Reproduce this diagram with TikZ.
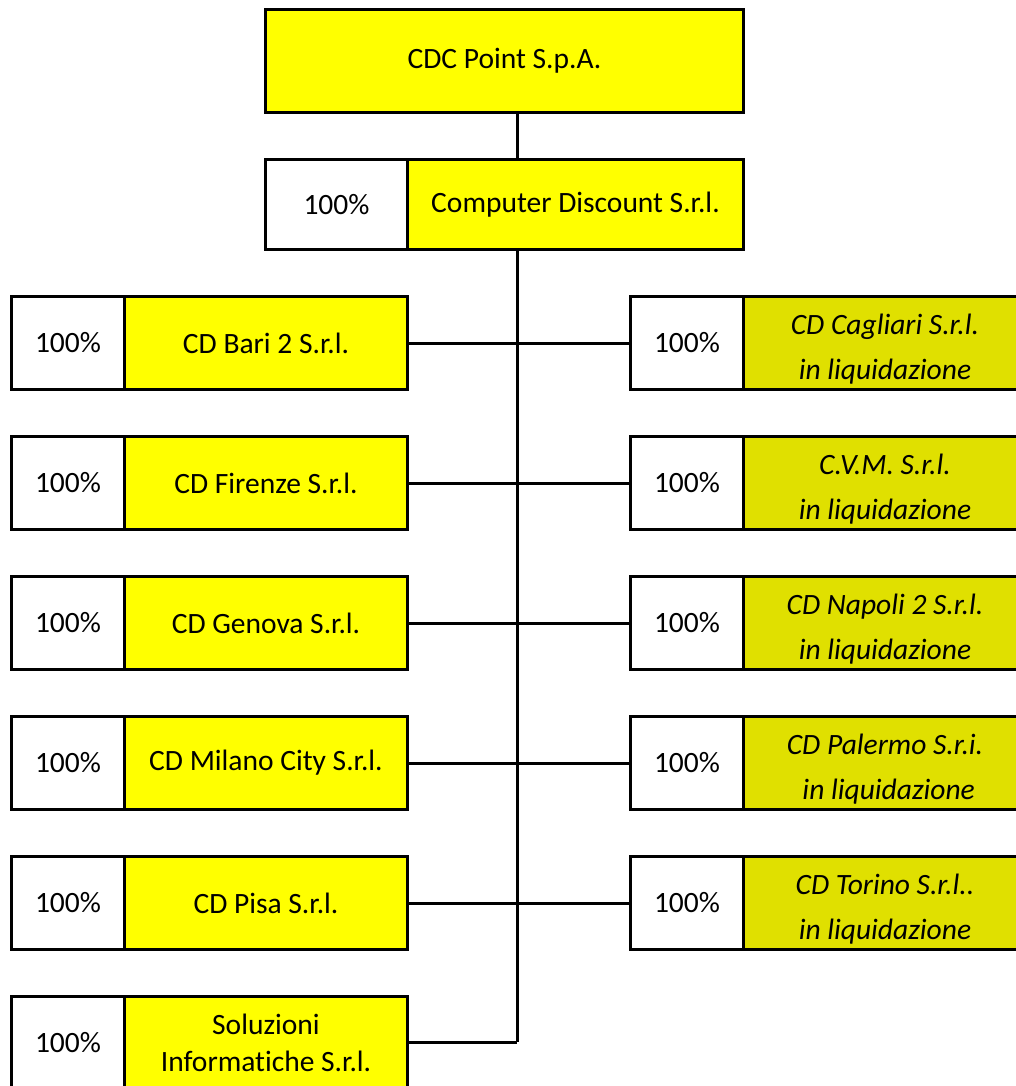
\documentclass[tikz,border=0pt]{standalone}
\usepackage{fontspec}
\setmainfont{Carlito}[Ligatures=NoCommon]
\usepackage{tikz}

\definecolor{firmyellow}{RGB}{255,255,0}
\definecolor{liqyellow}{RGB}{224,224,0}

\begin{document}
\begin{tikzpicture}[x=1pt,y=-1pt]
\tikzset{box/.style = {shape=rectangle,draw,line width=3pt,inner sep=0pt,anchor=north west,
  align=center,font=\fontsize{29.5}{45}\selectfont}}
\tikzset{pct/.style = {box,fill=white,minimum width=113pt,minimum height=93pt}}
\tikzset{firm/.style = {box,fill=firmyellow,minimum width=283pt,minimum height=93pt}}
\tikzset{liq/.style = {firm,fill=liqyellow,font=\fontsize{29.5}{45}\selectfont\itshape}}
\tikzset{edge/.style = {-,line width=3pt}}
\newcommand{\liqtop}{\rule{0pt}{33pt}}
\useasboundingbox (0,0) rectangle (1015,1086);

\node[box,fill=firmyellow,minimum width=478pt,minimum height=103pt] (cdc) at (264,8) {CDC Point S.p.A.};
\node[box,fill=white,minimum width=142pt,minimum height=90pt] (cdp) at (264,158) {100\%};
\node[box,fill=firmyellow,minimum width=336pt,minimum height=90pt] (cd) at (406,158) {Computer Discount S.r.l.};

%left column
\node[pct] (pbari) at (10,295) {100\%};
\node[firm] (bari) at (123,295) {CD Bari 2 S.r.l.};
\node[pct] (pfir) at (10,435) {100\%};
\node[firm] (fir) at (123,435) {CD Firenze S.r.l.};
\node[pct] (pgen) at (10,575) {100\%};
\node[firm] (gen) at (123,575) {CD Genova S.r.l.};
\node[pct] (pmil) at (10,715) {100\%};
\node[firm] (mil) at (123,715) {CD Milano City S.r.l.};
\node[pct] (ppisa) at (10,855) {100\%};
\node[firm] (pisa) at (123,855) {CD Pisa S.r.l.};
\node[pct] (psol) at (10,995) {100\%};
\node[firm,font=\fontsize{29.5}{37}\selectfont] (sol) at (123,995) {Soluzioni\\Informatiche S.r.l.};

%right column
\node[pct] (pcag) at (629,295) {100\%};
\node[liq] (cag) at (742,295) {\liqtop CD Cagliari S.r.l.\\in liquidazione};
\node[pct] (pcvm) at (629,435) {100\%};
\node[liq] (cvm) at (742,435) {\liqtop C.V.M. S.r.l.\\in liquidazione};
\node[pct] (pnap) at (629,575) {100\%};
\node[liq] (nap) at (742,575) {\liqtop CD Napoli 2 S.r.l.\\in liquidazione};
\node[pct] (ppal) at (629,715) {100\%};
\node[liq] (pal) at (742,715) {\liqtop CD Palermo S.r.i.\\\hspace*{0.25em}in liquidazione};
\node[pct] (ptor) at (629,855) {100\%};
\node[liq] (tor) at (742,855) {\liqtop CD Torino S.r.l..\\in liquidazione};

\coordinate (trunk) at (517,1042);

%edges
\draw[edge] (cdc.south -| trunk) to (cdp.north -| trunk);
\draw[edge] (cd.south -| trunk) to (trunk);
\draw[edge] (bari) to (pcag);
\draw[edge] (fir) to (pcvm);
\draw[edge] (gen) to (pnap);
\draw[edge] (mil) to (ppal);
\draw[edge] (pisa) to (ptor);
\draw[edge] (sol.east |- trunk) to (trunk);
\end{tikzpicture}
\end{document}
